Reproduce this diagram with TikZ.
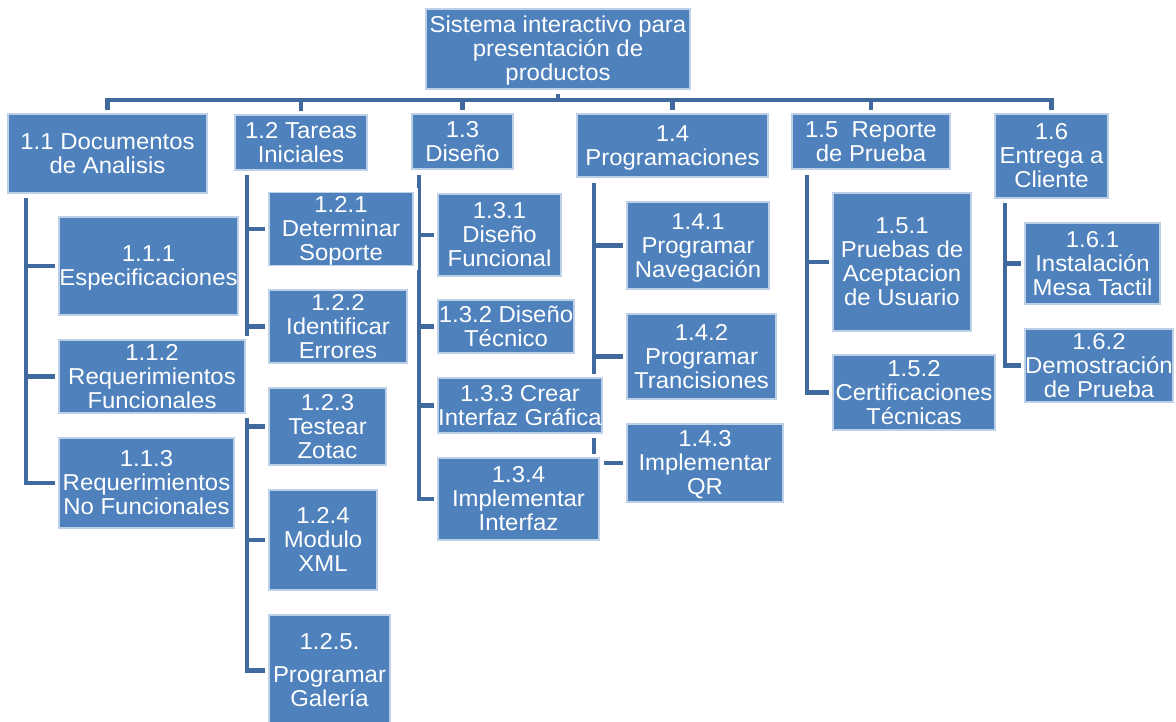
\documentclass[tikz,border=0pt]{standalone}
\usepackage{fontspec}
\setmainfont{Liberation Sans}[FakeStretch=1.04]
\definecolor{boxfill}{RGB}{79,129,189}
\definecolor{boxedge}{RGB}{190,208,231}
\definecolor{linkblue}{RGB}{64,106,157}
\pgfdeclarelayer{background}
\pgfsetlayers{background,main}
\tikzset{
  wbsbox/.style={rectangle, fill=boxfill, draw=boxedge, line width=1.2pt,
    preaction={draw=white, line width=9pt},
    text=white, align=center, inner sep=0pt,
    font=\fontsize{23}{24}\selectfont},
  conn/.style={draw=linkblue, line width=4.5pt, line join=miter}
}
% fixed ascent / descent for the first and last text lines
\newcommand\topstrut{\rule{0pt}{20pt}}
\newcommand\botstrut{\rule[-5pt]{0pt}{5pt}}
% box given by its corners: name, x1, y1, x2, y2, text
\newcommand\wbs[6]{%
  \node[wbsbox, minimum width={(#4-#2)*1pt}, minimum height={(#5-#3)*1pt}]
    (#1) at ({(#2+#4)/2},{(#3+#5)/2}) {\topstrut#6\botstrut};}
% elbow from a trunk line down to a child box
\newcommand\elbow[2]{\draw[conn] (#1) |- (#2.west);}
\begin{document}
\begin{tikzpicture}[x=1pt,y=-1pt]
\useasboundingbox (0,0) rectangle (1176,721);
\clip (0,0) rectangle (1176,721);

% ---- boxes ----
\wbs{top}{426}{9}{690}{89}{Sistema interactivo para\\presentación de\\productos}
\wbs{n11}{8}{114}{207}{193}{1.1 Documentos\\de Analisis}
\wbs{n12}{235}{115}{367}{170}{1.2 Tareas\\Iniciales}
\wbs{n13}{412}{114}{513}{169}{1.3\\Diseño}
\wbs{n14}{577}{114}{768}{177}{1.4\\Programaciones}
\wbs{n15}{792}{114}{950}{169}{1.5\ \ Reporte\\de Prueba}
\wbs{n16}{995}{114}{1108}{198}{1.6\\Entrega a\\Cliente}

\wbs{n111}{59}{217}{238}{315}{1.1.1\\Especificaciones}
\wbs{n112}{59}{340}{245}{413}{1.1.2\\Requerimientos\\Funcionales}
\wbs{n113}{59}{438}{234}{528}{1.1.3\\Requerimientos\\No Funcionales}
\wbs{n121}{269}{193}{413}{265}{1.2.1\\Determinar\\Soporte}
\wbs{n122}{269}{290}{407}{363}{1.2.2\\Identificar\\Errores}
\wbs{n123}{269}{388}{386}{465}{1.2.3\\Testear\\Zotac}
\wbs{n124}{269}{490}{377}{590}{1.2.4\\Modulo\\XML}
\wbs{n125}{269}{615}{390}{726}{1.2.5.\\[9pt]Programar\\Galería}
\wbs{n131}{438}{194}{561}{276}{1.3.1\\Diseño\\Funcional}
\wbs{n132}{438}{300}{574}{353}{1.3.2 Diseño\\Técnico}
\wbs{n133}{438}{378}{602}{433}{1.3.3 Crear\\Interfaz Gráfica}
\wbs{n134}{438}{458}{599}{540}{1.3.4\\Implementar\\Interfaz}
\wbs{n141}{627}{202}{769}{289}{1.4.1\\Programar\\Navegación}
\wbs{n142}{627}{314}{776}{399}{1.4.2\\Programar\\Trancisiones}
\wbs{n143}{627}{424}{783}{502}{1.4.3\\Implementar\\QR}
\wbs{n151}{833}{193}{971}{331}{1.5.1\\Pruebas de\\Aceptacion\\de Usuario}
\wbs{n152}{833}{355}{995}{430}{1.5.2\\Certificaciones\\Técnicas}
\wbs{n161}{1025}{223}{1160}{304}{1.6.1\\Instalación\\Mesa Tactil}
\wbs{n162}{1025}{329}{1173}{402}{1.6.2\\Demostración\\de Prueba}

% ---- connectors, behind the boxes ----
\coordinate (bar) at (558,100);
\coordinate (v11) at (26,198);
\coordinate (v12) at (247,175);
\coordinate (v13) at (419,175);
\coordinate (v14) at (594,183);
\coordinate (v15) at (807,175);
\coordinate (v16) at (1005,203);

\begin{pgfonlayer}{background}
  % top level bar
  \draw[conn] (top.south) -- (bar);
  \draw[conn] (n11.north) -- (n11.north |- bar) -- (n16.north |- bar) -- (n16.north);
  \foreach \n in {n12,n13,n14,n15}
    \draw[conn] (\n.north |- bar) -- (\n.north);
  % trunks with their children
  \elbow{v11}{n111} \elbow{v11}{n112} \elbow{v11}{n113}
  \elbow{v12}{n121} \elbow{v12}{n122} \elbow{v12}{n123}
  \elbow{v12}{n124} \elbow{v12}{n125}
  \elbow{v13}{n131} \elbow{v13}{n132} \elbow{v13}{n133} \elbow{v13}{n134}
  \elbow{v14}{n141} \elbow{v14}{n142} \elbow{v14}{n143}
  \elbow{v15}{n151} \elbow{v15}{n152}
  \elbow{v16}{n161} \elbow{v16}{n162}
\end{pgfonlayer}
\end{tikzpicture}
\end{document}
